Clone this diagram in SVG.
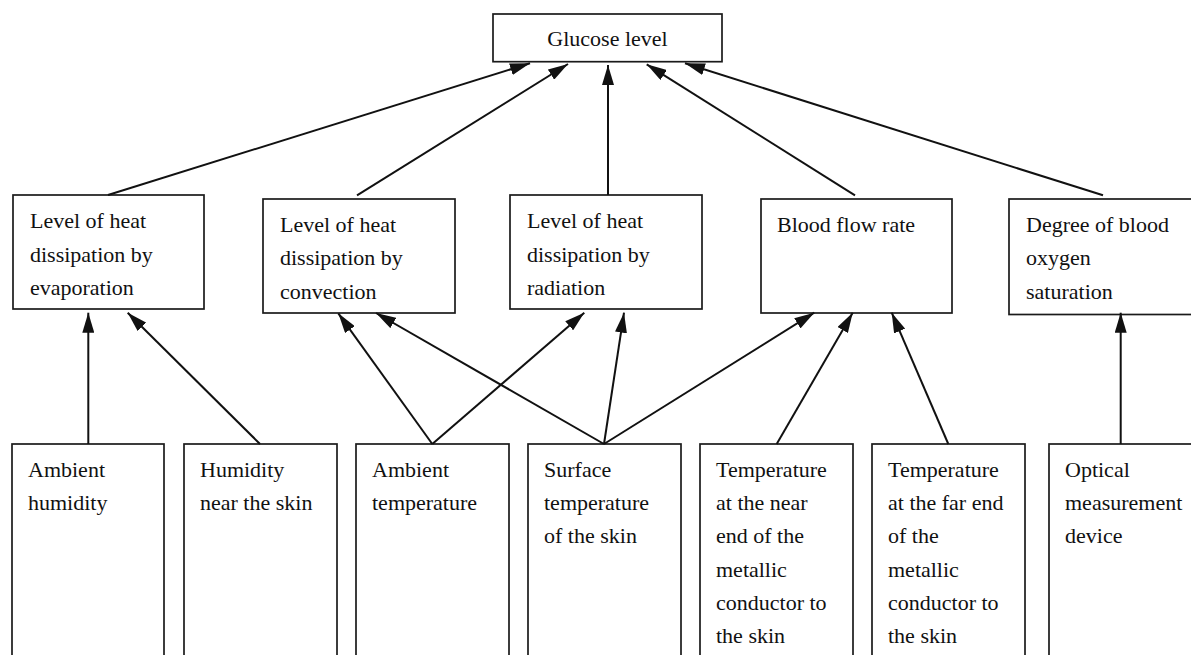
<svg xmlns="http://www.w3.org/2000/svg" width="1191" height="655" viewBox="0 0 1191 655">
<style>
.box{fill:#fff;stroke:#1a1a1a;stroke-width:1.7}
.t{font-family:"Liberation Serif","Times New Roman",serif;font-size:22px;fill:#111}
.c{fill:none;stroke:#111;stroke-width:2;marker-end:url(#ah)}
</style>
<defs>
<marker id="ah" markerUnits="userSpaceOnUse" markerWidth="20" markerHeight="12" refX="20" refY="6" orient="auto">
<path d="M0,0 L20,6 L0,12 z" fill="#111"/>
</marker>
</defs>
<rect width="1191" height="655" fill="#fff"/>

<g id="glucose">
<rect class="box" x="493" y="14" width="229" height="47.7"/>
<text class="t" x="607.5" y="46" text-anchor="middle">Glucose level</text>
</g>

<g id="evap">
<rect class="box" x="13" y="195" width="191" height="114"/>
<text class="t" x="30" y="228.3">Level of heat</text>
<text class="t" x="30" y="261.7">dissipation by</text>
<text class="t" x="30" y="295">evaporation</text>
</g>
<g id="conv">
<rect class="box" x="263" y="199" width="192" height="114"/>
<text class="t" x="280" y="232">Level of heat</text>
<text class="t" x="280" y="265.3">dissipation by</text>
<text class="t" x="280" y="298.7">convection</text>
</g>
<g id="rad">
<rect class="box" x="510" y="195" width="192" height="114"/>
<text class="t" x="527" y="228.3">Level of heat</text>
<text class="t" x="527" y="261.7">dissipation by</text>
<text class="t" x="527" y="295">radiation</text>
</g>
<g id="flow">
<rect class="box" x="761" y="199" width="191" height="114"/>
<text class="t" x="777" y="232">Blood flow rate</text>
</g>
<g id="oxy">
<rect class="box" x="1009" y="199" width="190" height="115.5"/>
<text class="t" x="1026" y="232">Degree of blood</text>
<text class="t" x="1026" y="265.3">oxygen</text>
<text class="t" x="1026" y="298.7">saturation</text>
</g>

<g id="b1">
<rect class="box" x="12" y="444" width="152" height="220"/>
<text class="t" x="28" y="476.7">Ambient</text>
<text class="t" x="28" y="510">humidity</text>
</g>
<g id="b2">
<rect class="box" x="184" y="444" width="153" height="220"/>
<text class="t" x="200" y="476.7">Humidity</text>
<text class="t" x="200" y="510">near the skin</text>
</g>
<g id="b3">
<rect class="box" x="356" y="444" width="153" height="220"/>
<text class="t" x="372" y="476.7">Ambient</text>
<text class="t" x="372" y="510">temperature</text>
</g>
<g id="b4">
<rect class="box" x="528" y="444" width="153" height="220"/>
<text class="t" x="544" y="476.7">Surface</text>
<text class="t" x="544" y="510">temperature</text>
<text class="t" x="544" y="543.3">of the skin</text>
</g>
<g id="b5">
<rect class="box" x="700" y="444" width="153" height="220"/>
<text class="t" x="716" y="476.7">Temperature</text>
<text class="t" x="716" y="510">at the near</text>
<text class="t" x="716" y="543.3">end of the</text>
<text class="t" x="716" y="576.7">metallic</text>
<text class="t" x="716" y="610">conductor to</text>
<text class="t" x="716" y="643.3">the skin</text>
</g>
<g id="b6">
<rect class="box" x="872" y="444" width="153" height="220"/>
<text class="t" x="888" y="476.7">Temperature</text>
<text class="t" x="888" y="510">at the far end</text>
<text class="t" x="888" y="543.3">of the</text>
<text class="t" x="888" y="576.7">metallic</text>
<text class="t" x="888" y="610">conductor to</text>
<text class="t" x="888" y="643.3">the skin</text>
</g>
<g id="b7">
<rect class="box" x="1049" y="444" width="150" height="220"/>
<text class="t" x="1065" y="476.7">Optical</text>
<text class="t" x="1065" y="510">measurement</text>
<text class="t" x="1065" y="543.3">device</text>
</g>

<g id="connectors">
<line class="c" x1="108" y1="195" x2="530" y2="63.3"/>
<line class="c" x1="357" y1="195.3" x2="568" y2="64"/>
<line class="c" x1="608" y1="195" x2="608" y2="65"/>
<line class="c" x1="855" y1="195.3" x2="646.7" y2="64.3"/>
<line class="c" x1="1103" y1="195.3" x2="685" y2="63.3"/>

<line class="c" x1="88.3" y1="444" x2="88.3" y2="312.7"/>
<line class="c" x1="260" y1="444" x2="127.7" y2="312.7"/>
<line class="c" x1="432.3" y1="444" x2="338.3" y2="313.3"/>
<line class="c" x1="432.3" y1="444" x2="584.3" y2="312.7"/>
<line class="c" x1="604" y1="444" x2="376" y2="313"/>
<line class="c" x1="604" y1="444" x2="624" y2="312.7"/>
<line class="c" x1="604" y1="444" x2="814.3" y2="312.7"/>
<line class="c" x1="776.7" y1="444" x2="852.7" y2="312.7"/>
<line class="c" x1="948.3" y1="444" x2="891.7" y2="312.7"/>
<line class="c" x1="1120.7" y1="444" x2="1120.7" y2="312.7"/>
</g>
</svg>
